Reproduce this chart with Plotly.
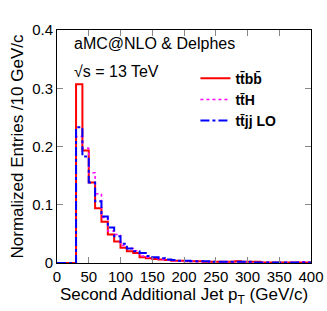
import plotly.graph_objects as go

bin_edges = list(range(0, 410, 10))

ttbb = [0, 0, 0, 0.307, 0.193, 0.138, 0.094, 0.071, 0.049, 0.037,
        0.026, 0.020, 0.017, 0.010, 0.008, 0.007, 0.006, 0.005, 0.004, 0.004,
        0.003, 0.003, 0.003, 0.002, 0.002, 0.002, 0.002, 0.002, 0.003, 0.002,
        0.002, 0.002, 0.001, 0.001, 0.001, 0.001, 0.001, 0.001, 0.001, 0.001]
tth = [0, 0, 0, 0.217, 0.197, 0.155, 0.119, 0.078, 0.055, 0.049,
       0.030, 0.025, 0.021, 0.012, 0.010, 0.008, 0.006, 0.005, 0.004, 0.004,
       0.003, 0.003, 0.002, 0.002, 0.002, 0.002, 0.002, 0.002, 0.002, 0.002,
       0.001, 0.001, 0.001, 0.001, 0.001, 0.001, 0.001, 0.001, 0.002, 0.001]
ttjj = [0, 0, 0, 0.233, 0.183, 0.138, 0.106, 0.080, 0.061, 0.046,
        0.033, 0.025, 0.020, 0.017, 0.012, 0.010, 0.008, 0.006, 0.005, 0.004,
        0.004, 0.003, 0.003, 0.003, 0.002, 0.002, 0.002, 0.002, 0.002, 0.002,
        0.002, 0.001, 0.001, 0.001, 0.001, 0.001, 0.001, 0.001, 0.001, 0.001]

series = [
    ("tt\u0304bb\u0304", ttbb, "#ff0000", "solid", 2),
    ("tt\u0304H", tth, "#ff00ff", "dot", 1.5),
    ("tt\u0304jj LO", ttjj, "#0000ff", "dashdot", 2),
]

fig = go.Figure()
for name, vals, col, dash, w in series:
    fig.add_trace(go.Scatter(
        x=bin_edges, y=vals + [vals[-1]], mode="lines", line_shape="hv",
        line=dict(color=col, dash=dash, width=w), name=name))

font = "Liberation Sans, Arial, sans-serif"
axis_common = dict(showgrid=False, zeroline=False, ticks="inside", ticklen=6,
                   tickcolor="#888888", showline=True, linecolor="black",
                   linewidth=1, mirror="allticks", automargin=False,
                   tickfont=dict(family=font, size=15, color="black"))

fig.update_layout(
    width=327, height=311,
    margin=dict(l=57, r=16, t=30, b=48),
    paper_bgcolor="white", plot_bgcolor="white",
    font=dict(family=font, color="black"),
    xaxis=dict(range=[0, 400], tickvals=[0, 50, 100, 150, 200, 250, 300, 350, 400],
               title=dict(text="Second Additional Jet p<sub>T</sub> (GeV/c)",
                          font=dict(size=17), standoff=2),
               **axis_common),
    yaxis=dict(range=[0, 0.4], tickvals=[0, 0.1, 0.2, 0.3, 0.4],
               ticktext=["0", "0.1", "0.2", "0.3", "0.4"],
               title=dict(text="Normalized Entries /10 GeV/c",
                          font=dict(size=17), standoff=4),
               **axis_common),
    legend=dict(x=0.545, y=0.86, xanchor="left", yanchor="top",
                bgcolor="rgba(0,0,0,0)", tracegroupgap=0,
                font=dict(family=font, size=14, color="black", weight="bold"),
                itemwidth=30),
    showlegend=True,
    annotations=[
        dict(text="aMC@NLO & Delphes", xref="paper", yref="paper", x=0.06, y=0.94,
             xanchor="left", yanchor="middle", showarrow=False,
             font=dict(family=font, size=16)),
        dict(text="\u221as = 13 TeV", xref="paper", yref="paper", x=0.06, y=0.82,
             xanchor="left", yanchor="middle", showarrow=False,
             font=dict(family=font, size=16)),
    ],
)

fig.write_html("out.html", config={"displayModeBar": False},
               post_script="document.body.style.margin='0';")
